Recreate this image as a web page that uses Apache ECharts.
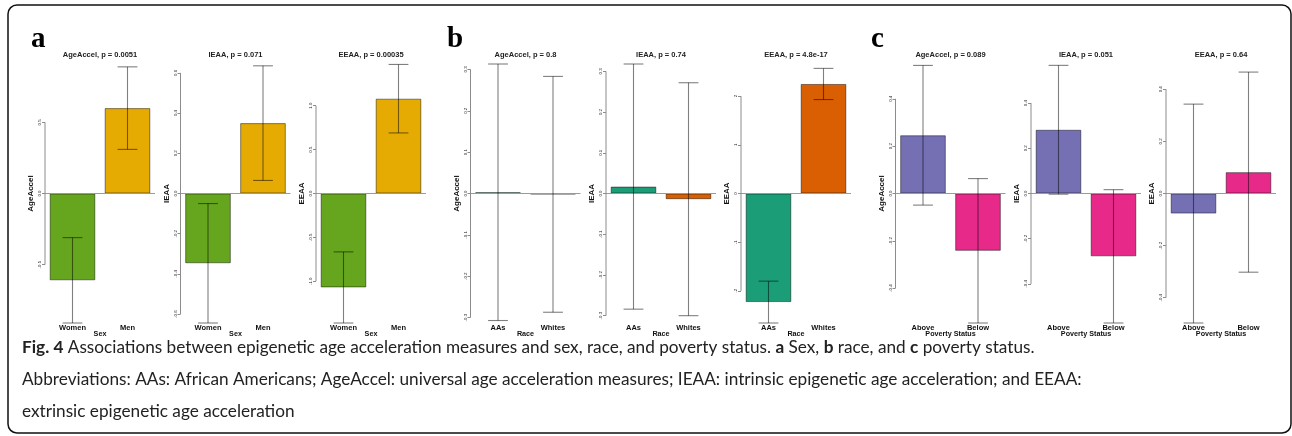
<!DOCTYPE html>
<html>
<head>
<meta charset="utf-8">
<script src="https://cdn.jsdelivr.net/npm/echarts@6/dist/echarts.min.js"></script>
<style>
  html, body { margin: 0; padding: 0; background: #fff; }
  #chart { width: 1292px; height: 436px; }
</style>
</head>
<body>
<div id="chart"></div>
<script>
// Epigenetic age acceleration measures, one small bar chart per measure
const measures = ['AgeAccel', 'IEAA', 'EEAA'];

// a: sex (mean and half-width of the error bar, per measure)
const sexGroups = ['Women', 'Men'];
const sexMeans = [[-0.61, 0.60], [-0.347, 0.350], [-1.07, 1.08]];
const sexErrors = [[0.30, 0.29], [0.297, 0.285], [0.405, 0.39]];
const sexPValues = ['0.0051', '0.071', '0.00035'];
const sexTicks = [[-0.5, 0, 0.5], [-0.6, -0.4, -0.2, 0, 0.2, 0.4, 0.6], [-1, -0.5, 0, 0.5, 1]];
const sexTickDigits = [1, 1, 1];
const sexColors = ['#66A61E', '#E6AB02'];

// b: race
const raceGroups = ['AAs', 'Whites'];
const raceMeans = [[0.003, -0.002], [0.017, -0.014], [-2.23, 2.25]];
const raceErrors = [[0.31, 0.285], [0.301, 0.286], [0.43, 0.32]];
const racePValues = ['0.8', '0.74', '4.8e-17'];
const raceTicks = [[-0.3, -0.2, -0.1, 0, 0.1, 0.2, 0.3], [-0.3, -0.2, -0.1, 0, 0.1, 0.2, 0.3], [-2, -1, 0, 1, 2]];
const raceTickDigits = [1, 1, 0];
const raceColors = ['#1B9E77', '#D95F02'];

// c: poverty status
const povertyGroups = ['Above', 'Below'];
const povertyMeans = [[0.246, -0.242], [0.282, -0.278], [-0.077, 0.082]];
const povertyErrors = [[0.295, 0.305], [0.285, 0.295], [0.42, 0.384]];
const povertyPValues = ['0.089', '0.051', '0.64'];
const povertyTicks = [[-0.4, -0.2, 0, 0.2, 0.4], [-0.4, -0.2, 0, 0.2, 0.4], [-0.4, -0.2, 0, 0.2, 0.4]];
const povertyTickDigits = [1, 1, 1];
const povertyColors = ['#7570B3', '#E7298A'];

const factors = [
  { letter: 'a', axisName: 'Sex', groups: sexGroups, means: sexMeans, errors: sexErrors,
    pValues: sexPValues, ticks: sexTicks, digits: sexTickDigits, colors: sexColors },
  { letter: 'b', axisName: 'Race', groups: raceGroups, means: raceMeans, errors: raceErrors,
    pValues: racePValues, ticks: raceTicks, digits: raceTickDigits, colors: raceColors },
  { letter: 'c', axisName: 'Poverty Status', groups: povertyGroups, means: povertyMeans, errors: povertyErrors,
    pValues: povertyPValues, ticks: povertyTicks, digits: povertyTickDigits, colors: povertyColors }
];

// Layout
const GRID_LEFTS = [45, 180.5, 316, 470.5, 606, 741, 895.5, 1031, 1166];
const GRID_W = 110;
const GRID_TOP = 64;
const GRID_H = 259;
const LETTER_X = [31, 447, 871];
const FONT = "'Liberation Sans', Arial, sans-serif";

// Error bars with caps, plus the y axis line running from first to last tick
function errorBarRenderer(ticks) {
  return function (params, api) {
    const i = api.value(0), m = api.value(1), e = api.value(2);
    const hi = api.coord([i, m + e]);
    const lo = api.coord([i, m - e]);
    const cap = api.size([1, 0])[0] * 0.18;
    const style = { stroke: 'rgba(0,0,0,0.5)', lineWidth: 1.1 };
    const children = [
      { type: 'line', shape: { x1: hi[0], y1: hi[1], x2: lo[0], y2: lo[1] }, style },
      { type: 'line', shape: { x1: hi[0] - cap, y1: hi[1], x2: hi[0] + cap, y2: hi[1] }, style },
      { type: 'line', shape: { x1: lo[0] - cap, y1: lo[1], x2: lo[0] + cap, y2: lo[1] }, style }
    ];
    if (params.dataIndex === 0) {
      const ax = params.coordSys.x;
      const y0 = api.coord([0, ticks[0]])[1];
      const y1 = api.coord([0, ticks[ticks.length - 1]])[1];
      children.push({ type: 'line', shape: { x1: ax, y1: y0, x2: ax, y2: y1 },
        style: { stroke: '#8c8c8c', lineWidth: 1 } });
    }
    return { type: 'group', children };
  };
}

const grid = [], xAxis = [], yAxis = [], series = [], graphic = [];

factors.forEach((f, fi) => {
  graphic.push({
    type: 'text', x: LETTER_X[fi], y: 40,
    style: { text: f.letter, fontFamily: "'Liberation Serif', 'Times New Roman', serif",
      fontWeight: 'bold', fontSize: 29, fill: '#000', verticalAlign: 'middle' }
  });
  measures.forEach((measure, mi) => {
    const k = fi * 3 + mi;
    const means = f.means[mi], errs = f.errors[mi], ticks = f.ticks[mi], digits = f.digits[mi];
    const limit = Math.max(...means.map((v, j) => Math.abs(v) + errs[j]));
    const left = GRID_LEFTS[k];

    grid.push({ left, top: GRID_TOP, width: GRID_W, height: GRID_H });

    xAxis.push({
      gridIndex: k, type: 'category', data: f.groups,
      axisLine: { show: false }, axisTick: { show: false },
      axisLabel: { fontFamily: FONT, fontWeight: 'bold', fontSize: 7.5, color: '#111', margin: 1 },
      name: f.axisName, nameLocation: 'middle', nameGap: 8, nameMoveOverlap: false,
      nameTextStyle: { fontFamily: FONT, fontWeight: 'bold', fontSize: 7.2, color: '#111' }
    });

    yAxis.push({
      gridIndex: k, type: 'value', min: -limit, max: limit,
      splitLine: { show: false }, axisLine: { show: false },
      axisTick: { show: true, customValues: ticks, length: 3, lineStyle: { color: '#8c8c8c' } },
      axisLabel: { customValues: ticks, rotate: 90, fontFamily: FONT, fontSize: 4.4, color: '#222', margin: 3,
        formatter: v => v.toFixed(digits) },
      name: measure, nameLocation: 'middle', nameGap: 10, nameMoveOverlap: false,
      nameTextStyle: { fontFamily: FONT, fontWeight: 'bold', fontSize: 8, color: '#111' }
    });

    series.push({
      type: 'bar', xAxisIndex: k, yAxisIndex: k, barCategoryGap: '17%',
      data: means.map((v, j) => ({ value: v, itemStyle: { color: f.colors[j] } })),
      itemStyle: { borderColor: 'rgba(0,0,0,0.45)', borderWidth: 1 },
      markLine: {
        silent: true, symbol: 'none', label: { show: false },
        lineStyle: { color: '#9a9a9a', width: 1.2, type: 'solid' },
        data: [{ yAxis: 0 }]
      }
    });

    series.push({
      type: 'custom', xAxisIndex: k, yAxisIndex: k,
      renderItem: errorBarRenderer(ticks),
      encode: { x: 0, y: 1 },
      data: means.map((v, j) => [j, v, errs[j]]),
      z: 5
    });

    graphic.push({
      type: 'text', x: left + GRID_W / 2, y: 55,
      style: { text: measure + ', p = ' + f.pValues[mi], fontFamily: FONT, fontWeight: 'bold',
        fontSize: 7.5, fill: '#222', align: 'center', verticalAlign: 'middle' }
    });
  });
});

// Frame and caption
graphic.push({
  type: 'rect', shape: { x: 8, y: 5, width: 1283, height: 428, r: 9 },
  style: { fill: 'none', stroke: '#111', lineWidth: 1.5 }, z: -1
});

const captionFont = "Lato, 'Open Sans', sans-serif";
const captionRich = { b: { fontWeight: 'bold', fontFamily: captionFont, fontSize: 17.2, fill: '#222' } };
const captionLines = [
  '{b|Fig. 4} Associations between epigenetic age acceleration measures and sex, race, and poverty status. {b|a} Sex, {b|b} race, and {b|c} poverty status.',
  'Abbreviations: AAs: African Americans; AgeAccel: universal age acceleration measures; IEAA: intrinsic epigenetic age acceleration; and EEAA:',
  'extrinsic epigenetic age acceleration'
];
const captionY = [347, 379, 411];
captionLines.forEach((line, i) => {
  graphic.push({
    type: 'text', x: 22, y: captionY[i],
    style: { text: line, rich: captionRich, fontFamily: captionFont, fontSize: 17.2, fill: '#222',
      verticalAlign: 'middle' }
  });
});

const chart = echarts.init(document.getElementById('chart'), null, { renderer: 'canvas' });
chart.setOption({
  backgroundColor: '#fff',
  animation: false,
  grid, xAxis, yAxis, series, graphic
});
</script>
</body>
</html>
